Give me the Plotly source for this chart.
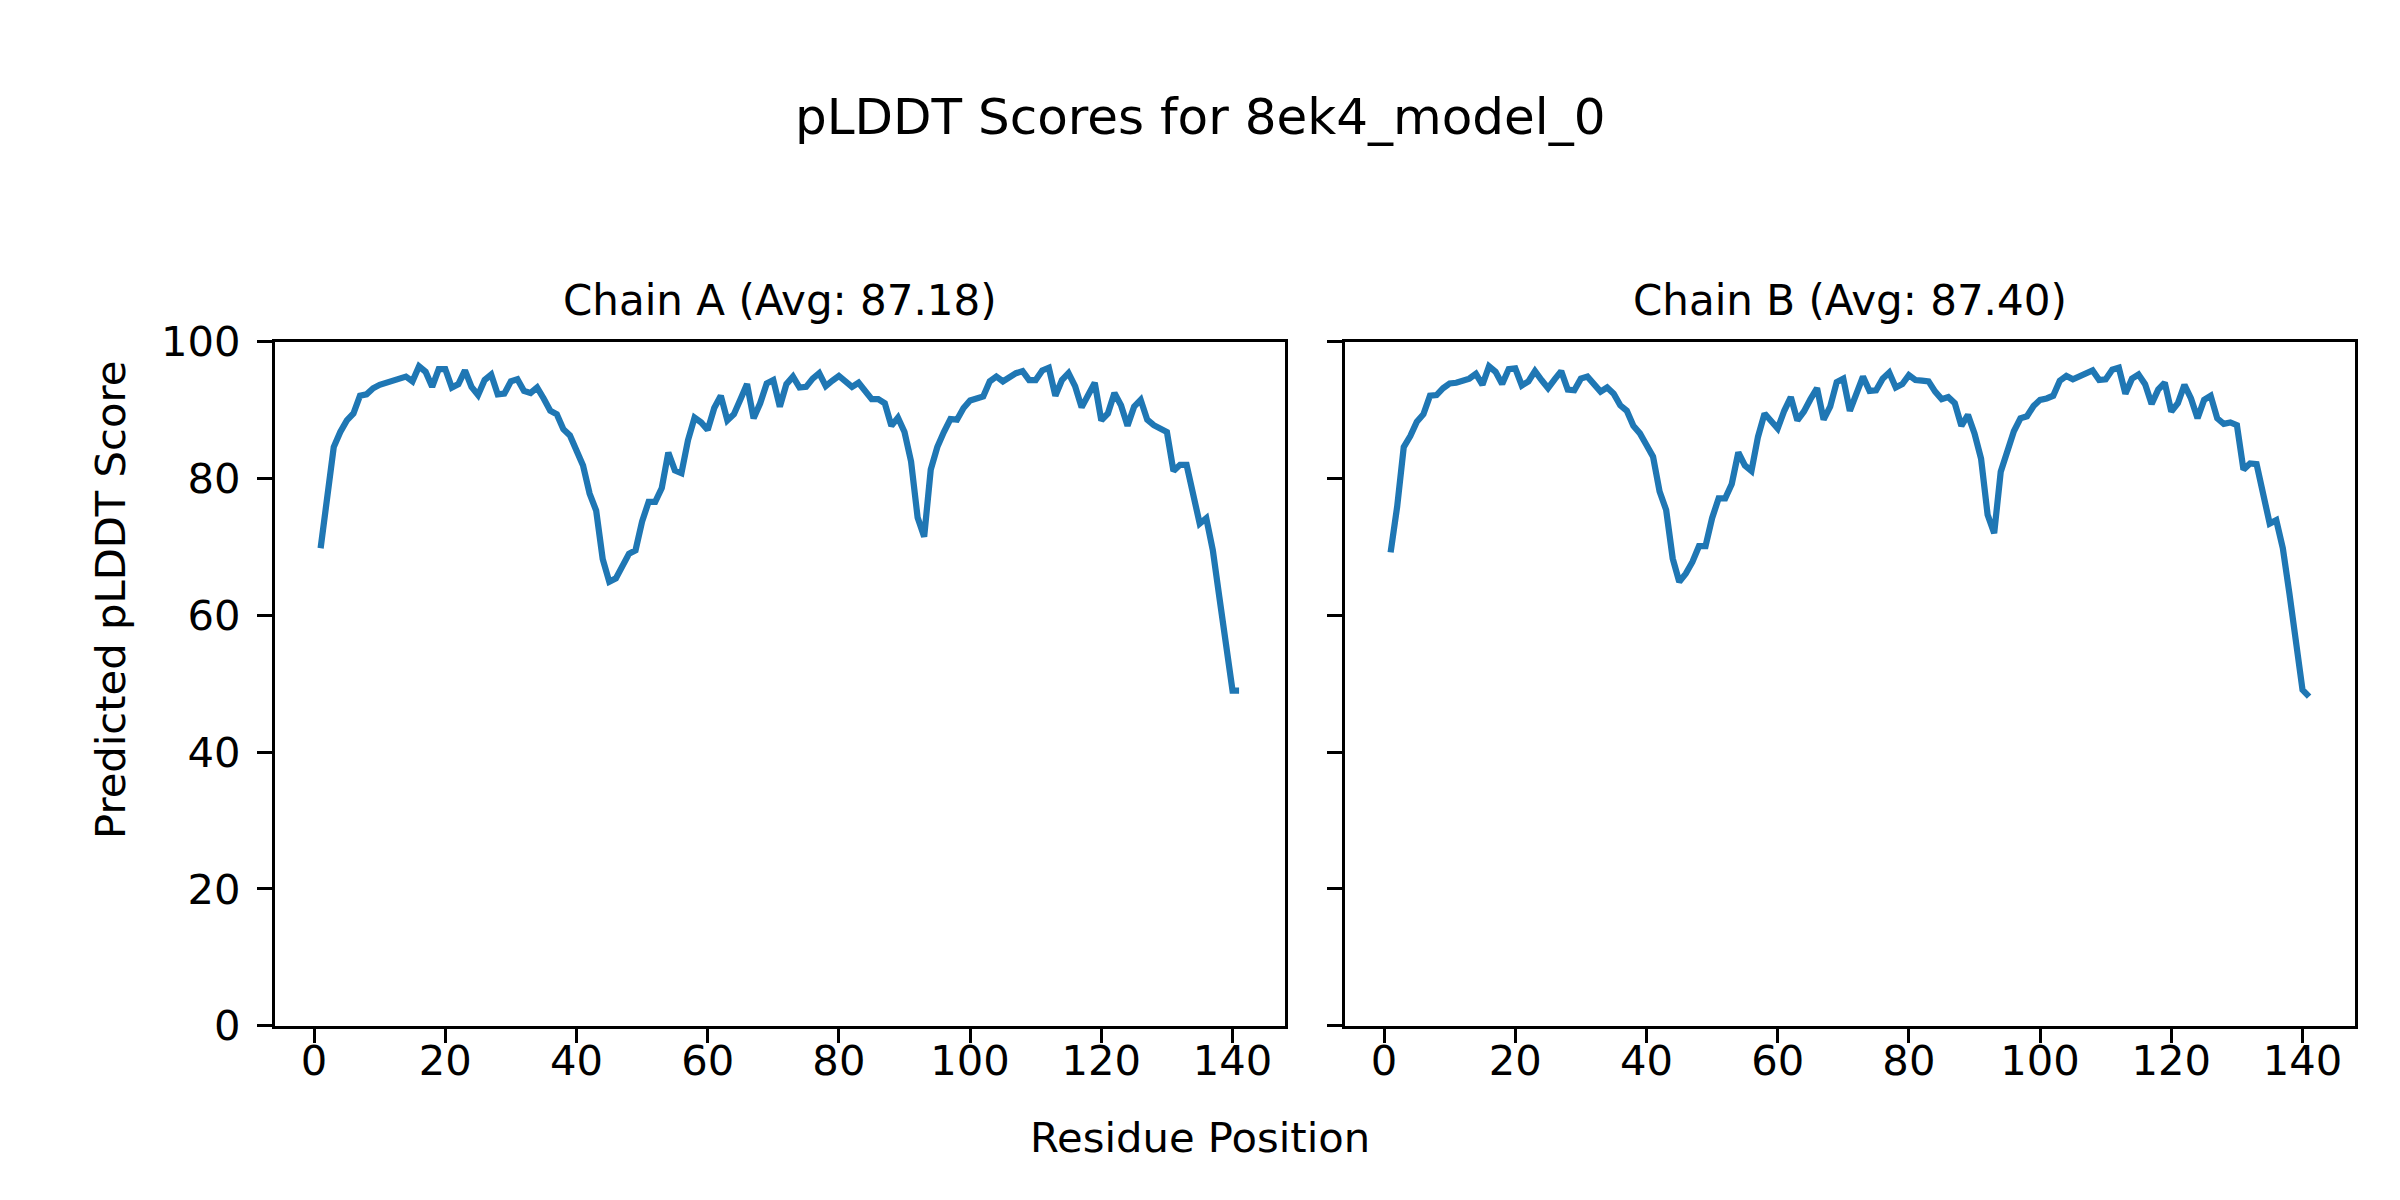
import plotly.graph_objects as go

residues = list(range(1, 142))

chain_a_scores = [
    69.8, 76.9, 84.6, 86.8, 88.5, 89.5, 92.1, 92.3, 93.2, 93.7,
    94.0, 94.3, 94.7, 94.9, 94.2, 96.4, 95.6, 93.4, 96.0, 96.0,
    93.3, 93.8, 95.8, 93.4, 92.2, 94.4, 95.2, 92.3, 92.4, 94.2,
    94.5, 92.8, 92.5, 93.3, 91.7, 89.9, 89.4, 87.2, 86.3, 84.2,
    81.9, 77.8, 75.3, 68.2, 64.9, 65.4, 67.3, 69.0, 69.5, 73.7,
    76.6, 76.6, 78.6, 83.8, 81.2, 80.8, 85.6, 88.9, 88.2, 87.1,
    90.3, 92.1, 88.5, 89.4, 91.6, 93.8, 88.8, 91.0, 93.9, 94.4,
    90.5, 93.8, 94.9, 93.3, 93.4, 94.6, 95.4, 93.5, 94.3, 95.0,
    94.2, 93.4, 94.0, 92.7, 91.6, 91.6, 91.0, 87.7, 88.9, 86.8,
    82.5, 74.3, 71.5, 81.3, 84.6, 86.8, 88.7, 88.6, 90.3, 91.4,
    91.6, 92.0, 94.2, 94.9, 94.2, 94.9, 95.4, 95.7, 94.4, 94.4,
    95.8, 96.2, 92.1, 94.4, 95.4, 93.5, 90.4, 92.2, 94.0, 88.5,
    89.5, 92.5, 90.7, 87.7, 90.5, 91.5, 88.6, 87.8, 87.4, 86.8,
    81.1, 82.0, 82.0, 77.8, 73.4, 74.2, 69.5, 62.6, 55.9, 49.0,
    49.0,
]

chain_b_scores = [
    69.2, 75.9, 84.6, 86.2, 88.3, 89.4, 92.1, 92.2, 93.2, 93.9,
    94.0, 94.2, 94.6, 95.3, 93.7, 96.4, 95.6, 93.8, 96.0, 96.1,
    93.6, 94.2, 95.7, 94.4, 93.2, 94.5, 95.7, 93.0, 92.9, 94.6,
    94.9, 93.8, 92.7, 93.3, 92.4, 90.7, 89.9, 87.7, 86.6, 84.9,
    83.2, 78.1, 75.4, 68.3, 64.9, 66.1, 67.8, 70.1, 70.1, 74.2,
    77.1, 77.1, 79.2, 83.8, 81.9, 81.1, 86.1, 89.5, 88.5, 87.3,
    89.9, 91.9, 88.5, 89.8, 91.6, 93.2, 88.6, 90.5, 94.1, 94.6,
    89.9, 92.7, 94.9, 92.8, 92.9, 94.6, 95.5, 93.3, 93.8, 95.1,
    94.4, 94.3, 94.2, 92.7, 91.6, 91.9, 91.0, 87.7, 89.3, 86.6,
    82.9, 74.7, 72.0, 81.0, 84.1, 86.9, 88.8, 89.1, 90.6, 91.5,
    91.7, 92.1, 94.3, 95.0, 94.5, 94.9, 95.2, 95.8, 94.4, 94.5,
    95.9, 96.2, 92.4, 94.6, 95.2, 93.8, 90.9, 93.0, 94.0, 89.8,
    91.0, 93.7, 91.7, 88.8, 91.5, 92.1, 88.8, 88.0, 88.2, 87.8,
    81.3, 82.2, 82.1, 77.8, 73.4, 73.9, 69.8, 63.2, 56.1, 49.1,
    48.1,
]

main_title = "pLDDT Scores for 8ek4_model_0"
subplot_titles = ["Chain A (Avg: 87.18)", "Chain B (Avg: 87.40)"]
x_label = "Residue Position"
y_label = "Predicted pLDDT Score"
x_ticks = [0, 20, 40, 60, 80, 100, 120, 140]
y_ticks = [0, 20, 40, 60, 80, 100]

W, H = 2400, 1200
FONT = "DejaVu Sans"
LINE_COLOR = "#1f77b4"
SPINE_W = 3.3
TICK_LEN = 14.6
TICK_FS = 41.7

dom_a = [274.7 / W, 1285.0 / W]
dom_b = [1344.7 / W, 2355.0 / W]
dom_y = [1 - 1025.7 / H, 1 - 341.7 / H]

fig = go.Figure()
fig.add_trace(go.Scatter(x=residues, y=chain_a_scores, mode="lines",
                         line=dict(color=LINE_COLOR, width=6.25),
                         xaxis="x", yaxis="y", showlegend=False))
fig.add_trace(go.Scatter(x=residues, y=chain_b_scores, mode="lines",
                         line=dict(color=LINE_COLOR, width=6.25),
                         xaxis="x2", yaxis="y2", showlegend=False))

common_x = dict(range=[-6, 148], tickvals=x_ticks, ticks="outside",
                ticklen=TICK_LEN, tickwidth=SPINE_W, tickcolor="black",
                showline=True, linewidth=SPINE_W, linecolor="black", mirror=True,
                showgrid=False, zeroline=False,
                tickfont=dict(family=FONT, size=TICK_FS, color="black"),
                ticklabelstandoff=-18)
common_y = dict(range=[0, 100], tickvals=y_ticks, ticks="outside",
                ticklen=TICK_LEN, tickwidth=SPINE_W, tickcolor="black",
                showline=True, linewidth=SPINE_W, linecolor="black", mirror=True,
                showgrid=False, zeroline=False,
                tickfont=dict(family=FONT, size=TICK_FS, color="black"),
                ticklabelstandoff=8)

annotations = [
    dict(text=main_title, x=0.5, y=1 - 117 / H, xref="paper", yref="paper",
         xanchor="center", yanchor="middle", showarrow=False,
         font=dict(family=FONT, size=50, color="black")),
    dict(text=subplot_titles[0], x=(dom_a[0] + dom_a[1]) / 2, y=1 - 300 / H,
         xref="paper", yref="paper", xanchor="center", yanchor="middle",
         showarrow=False, font=dict(family=FONT, size=42, color="black")),
    dict(text=subplot_titles[1], x=(dom_b[0] + dom_b[1]) / 2, y=1 - 300 / H,
         xref="paper", yref="paper", xanchor="center", yanchor="middle",
         showarrow=False, font=dict(family=FONT, size=42, color="black")),
    dict(text=x_label, x=0.5, y=1 - 1137 / H, xref="paper", yref="paper",
         xanchor="center", yanchor="middle", showarrow=False,
         font=dict(family=FONT, size=41.7, color="black")),
    dict(text=y_label, x=110 / W, y=0.5, xref="paper", yref="paper",
         xanchor="center", yanchor="middle", showarrow=False, textangle=-90,
         font=dict(family=FONT, size=41.7, color="black")),
]

fig.update_layout(
    width=W, height=H,
    margin=dict(l=0, r=0, t=0, b=0, autoexpand=False),
    paper_bgcolor="white", plot_bgcolor="white",
    font=dict(family=FONT, color="black"),
    xaxis=dict(domain=dom_a, anchor="y", **common_x),
    yaxis=dict(domain=dom_y, anchor="x", **common_y),
    xaxis2=dict(domain=dom_b, anchor="y2", **common_x),
    yaxis2=dict(domain=dom_y, anchor="x2", showticklabels=False, **common_y),
    annotations=annotations,
)

fig.write_html("out.html", config={"displayModeBar": False},
               post_script="document.body.style.margin='0';")
